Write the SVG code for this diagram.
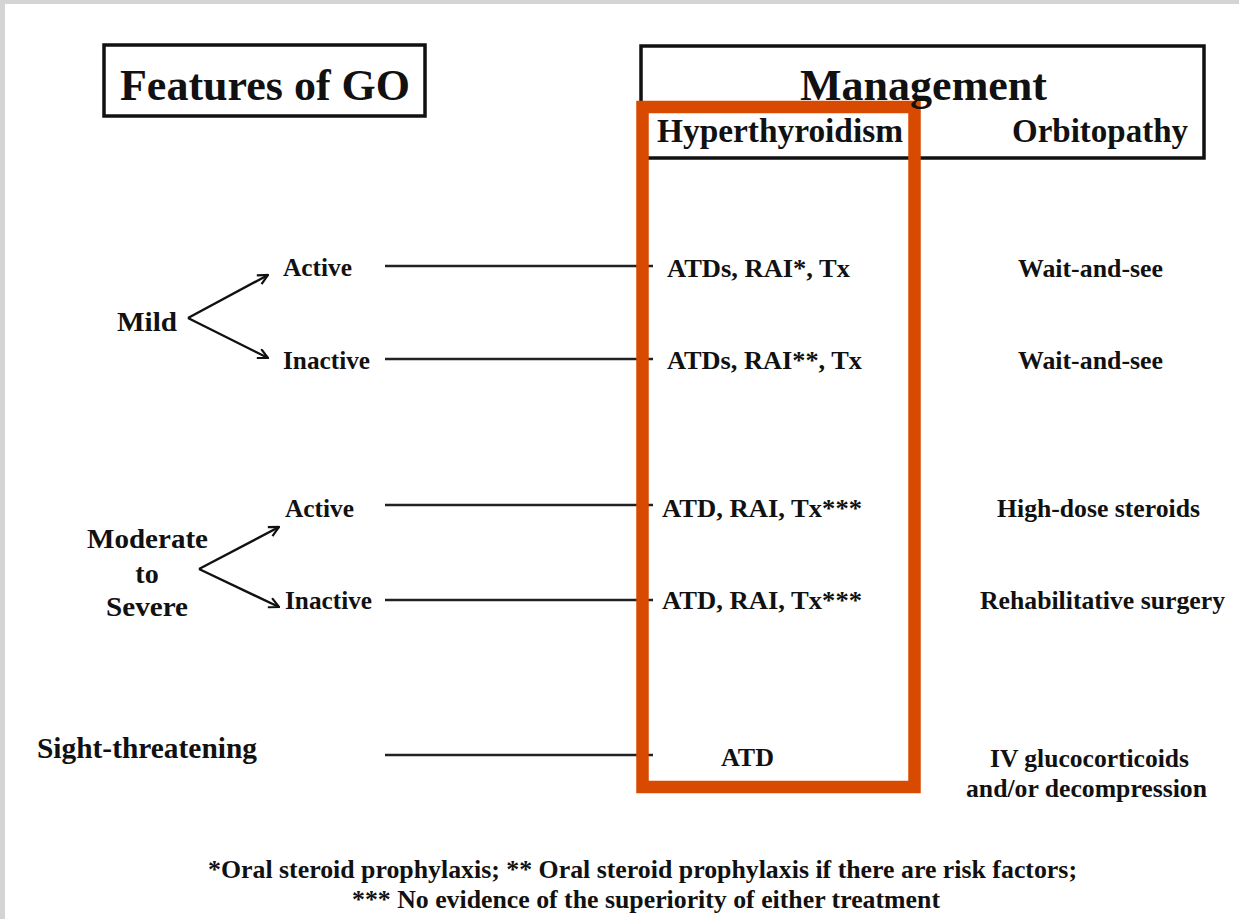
<svg xmlns="http://www.w3.org/2000/svg" width="1239" height="919" viewBox="0 0 1239 919">
<defs>
<style>
text{font-family:"Liberation Serif","Times New Roman",serif;font-weight:bold;fill:#111}
.t44{font-size:44px}
.t33{font-size:33px}
.t29{font-size:29px}
.t28{font-size:28px}
.t25{font-size:25px}
.t23{font-size:25px}
.box{fill:none;stroke:#111;stroke-width:3.5}
.conn{stroke:#222;stroke-width:2.4;fill:none}
.arr{stroke:#111;stroke-width:2.4;fill:none}
</style>
<marker id="vhead" viewBox="0 0 12 12" refX="11" refY="6" markerWidth="12" markerHeight="12" markerUnits="userSpaceOnUse" orient="auto">
<path d="M1,1 L11,6 L1,11" fill="none" stroke="#111" stroke-width="2.2"/>
</marker>
</defs>
<rect x="0" y="0" width="1239" height="919" fill="#d4d4d4"/>
<rect x="5" y="4" width="1234" height="915" fill="#ffffff"/>

<g id="features-header">
<rect class="box" x="104" y="45" width="321" height="71"/>
<text class="t44" x="120" y="100" textLength="290" lengthAdjust="spacingAndGlyphs">Features of GO</text>
</g>

<g id="management-header">
<rect class="box" x="641" y="46" width="563" height="112"/>
</g>

<g id="connectors">
<line class="conn" x1="385" y1="266" x2="653" y2="266"/>
<line class="conn" x1="385" y1="359" x2="653" y2="359"/>
<line class="conn" x1="385" y1="505" x2="653" y2="505"/>
<line class="conn" x1="385" y1="600" x2="653" y2="600"/>
<line class="conn" x1="385" y1="755" x2="653" y2="755"/>
<line class="arr" x1="188" y1="318" x2="268" y2="275" marker-end="url(#vhead)"/>
<line class="arr" x1="188" y1="318" x2="268" y2="358" marker-end="url(#vhead)"/>
<line class="arr" x1="199" y1="569" x2="279" y2="527" marker-end="url(#vhead)"/>
<line class="arr" x1="199" y1="569" x2="279" y2="607" marker-end="url(#vhead)"/>
</g>

<g id="highlight">
<rect x="642.5" y="107" width="272" height="680" fill="none" stroke="#d84a00" stroke-width="12.5"/>
</g>

<g id="management-texts">
<text class="t44" x="800" y="100" textLength="247" lengthAdjust="spacingAndGlyphs">Management</text>
<text class="t33" x="657" y="142" textLength="246" lengthAdjust="spacingAndGlyphs">Hyperthyroidism</text>
<text class="t33" x="1012" y="142" textLength="176" lengthAdjust="spacingAndGlyphs">Orbitopathy</text>
</g>

<g id="mild">
<text class="t28" x="117" y="331" textLength="60" lengthAdjust="spacingAndGlyphs">Mild</text>
</g>
<g id="mild-active">
<text class="t25" x="283" y="276" textLength="69" lengthAdjust="spacingAndGlyphs">Active</text>
</g>
<g id="mild-inactive">
<text class="t25" x="283" y="369" textLength="87" lengthAdjust="spacingAndGlyphs">Inactive</text>
</g>
<g id="moderate">
<text class="t28" x="87" y="548" textLength="121" lengthAdjust="spacingAndGlyphs">Moderate</text>
<text class="t28" x="147" y="583" text-anchor="middle">to</text>
<text class="t28" x="147" y="616" text-anchor="middle" textLength="82" lengthAdjust="spacingAndGlyphs">Severe</text>
</g>
<g id="mod-active">
<text class="t25" x="285" y="517" textLength="69" lengthAdjust="spacingAndGlyphs">Active</text>
</g>
<g id="mod-inactive">
<text class="t25" x="285" y="609" textLength="87" lengthAdjust="spacingAndGlyphs">Inactive</text>
</g>
<g id="sight">
<text class="t29" x="37" y="758" textLength="220" lengthAdjust="spacingAndGlyphs">Sight-threatening</text>
</g>

<g id="hyper-1"><text class="t25" x="667" y="277" textLength="183" lengthAdjust="spacingAndGlyphs">ATDs, RAI*, Tx</text></g>
<g id="hyper-2"><text class="t25" x="667" y="369" textLength="195" lengthAdjust="spacingAndGlyphs">ATDs, RAI**, Tx</text></g>
<g id="hyper-3"><text class="t25" x="662" y="517" textLength="200" lengthAdjust="spacingAndGlyphs">ATD, RAI, Tx***</text></g>
<g id="hyper-4"><text class="t25" x="662" y="609" textLength="200" lengthAdjust="spacingAndGlyphs">ATD, RAI, Tx***</text></g>
<g id="hyper-5"><text class="t25" x="721" y="766" textLength="53" lengthAdjust="spacingAndGlyphs">ATD</text></g>

<g id="orbito-1"><text class="t25" x="1018" y="277" textLength="145" lengthAdjust="spacingAndGlyphs">Wait-and-see</text></g>
<g id="orbito-2"><text class="t25" x="1018" y="369" textLength="145" lengthAdjust="spacingAndGlyphs">Wait-and-see</text></g>
<g id="orbito-3"><text class="t25" x="997" y="517" textLength="203" lengthAdjust="spacingAndGlyphs">High-dose steroids</text></g>
<g id="orbito-4"><text class="t25" x="980" y="609" textLength="245" lengthAdjust="spacingAndGlyphs">Rehabilitative surgery</text></g>
<g id="orbito-5">
<text class="t25" x="990" y="767" textLength="199" lengthAdjust="spacingAndGlyphs">IV glucocorticoids</text>
<text class="t25" x="966" y="797" textLength="241" lengthAdjust="spacingAndGlyphs">and/or decompression</text>
</g>

<g id="footnote">
<text class="t23" x="208" y="878" textLength="869" lengthAdjust="spacingAndGlyphs">*Oral steroid prophylaxis; ** Oral steroid prophylaxis if there are risk factors;</text>
<text class="t23" x="352" y="908" textLength="588" lengthAdjust="spacingAndGlyphs">*** No evidence of the superiority of either treatment</text>
</g>
</svg>
